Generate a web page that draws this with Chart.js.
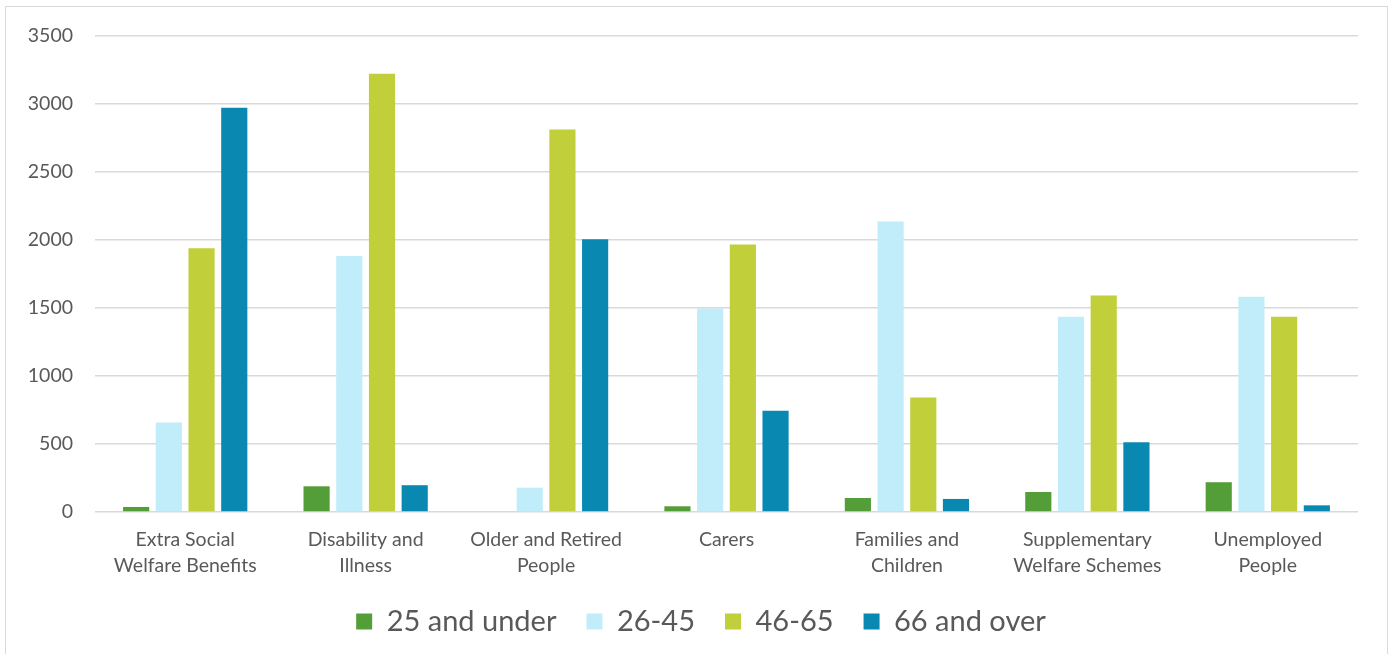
<!DOCTYPE html>
<html>
<head>
<meta charset="utf-8">
<script src="https://cdn.jsdelivr.net/npm/chart.js@4.4.1/dist/chart.umd.min.js"></script>
<style>
  html, body { margin: 0; padding: 0; background: #fff; overflow: hidden; }
  #frame { position: absolute; left: 5px; top: 6px; width: 1383px; height: 700px;
           border: 1.5px solid #d9d9d9; box-sizing: border-box; }
  #wrap { position: absolute; left: 0; top: 0; width: 1395px; height: 654px; }
</style>
</head>
<body>
<div id="frame"></div>
<div id="wrap"><canvas id="c" width="1395" height="654"></canvas></div>
<script>
// Welfare scheme categories (two-line labels)
const categories = [
  ["Extra Social", "Welfare Benefits"],
  ["Disability and", "Illness"],
  ["Older and Retired", "People"],
  ["Carers"],
  ["Families and", "Children"],
  ["Supplementary", "Welfare Schemes"],
  ["Unemployed", "People"]
];

// Counts per age band
const age25AndUnder = [37, 189, 0, 42, 103, 147, 219];
const age26To45     = [658, 1883, 179, 1497, 2136, 1436, 1583];
const age46To65     = [1939, 3223, 2813, 1966, 842, 1591, 1436];
const age66AndOver  = [2973, 197, 2005, 744, 96, 513, 49];

const seriesNames = ["25 and under", "26-45", "46-65", "66 and over"];
const seriesColors = ["#549E39", "#C1EDFA", "#C0CF3A", "#0989B1"];

const yTicks = [0, 500, 1000, 1500, 2000, 2500, 3000, 3500];

const FONT = "Lato, 'Open Sans', sans-serif";
const TEXT = "#595959";
const GRID = "#d9d9d9";

const data = {
  labels: categories,
  datasets: [age25AndUnder, age26To45, age46To65, age66AndOver].map((vals, i) => ({
    label: seriesNames[i],
    data: vals,
    backgroundColor: seriesColors[i],
    borderWidth: 0,
    categoryPercentage: 0.725,
    barPercentage: 0.8
  }))
};

// Nudge the legend a little to the right so it sits under the page centre
const legendShift = {
  id: "legendShift",
  afterLayout(chart) {
    const lg = chart.legend;
    if (lg) { lg.left += 22; lg.right += 22; }
  }
};

new Chart(document.getElementById("c"), {
  type: "bar",
  data,
  plugins: [legendShift],
  options: {
    responsive: false,
    animation: false,
    layout: { padding: { top: 36, right: 37, left: 0, bottom: 8 } },
    plugins: {
      tooltip: { enabled: false },
      legend: {
        position: "bottom",
        labels: {
          font: { family: FONT, size: 29 },
          color: TEXT,
          boxWidth: 16,
          boxHeight: 16,
          padding: 30
        }
      }
    },
    scales: {
      x: {
        grid: { display: false },
        border: { display: false },
        ticks: {
          color: TEXT,
          font: { family: FONT, size: 19.5, lineHeight: 1.33 },
          padding: 7,
          maxRotation: 0,
          autoSkip: false
        },
        afterFit(scale) { scale.height = 65; }
      },
      y: {
        min: 0,
        max: 3500,
        border: { display: false },
        grid: { color: GRID, lineWidth: 1.5, drawTicks: false },
        afterBuildTicks(scale) { scale.ticks = yTicks.map(v => ({ value: v })); },
        ticks: {
          color: TEXT,
          font: { family: FONT, size: 19.5 },
          padding: 22,
          callback: v => String(v)
        },
        afterFit(scale) { scale.width = 95; }
      }
    }
  }
});
</script>
</body>
</html>
